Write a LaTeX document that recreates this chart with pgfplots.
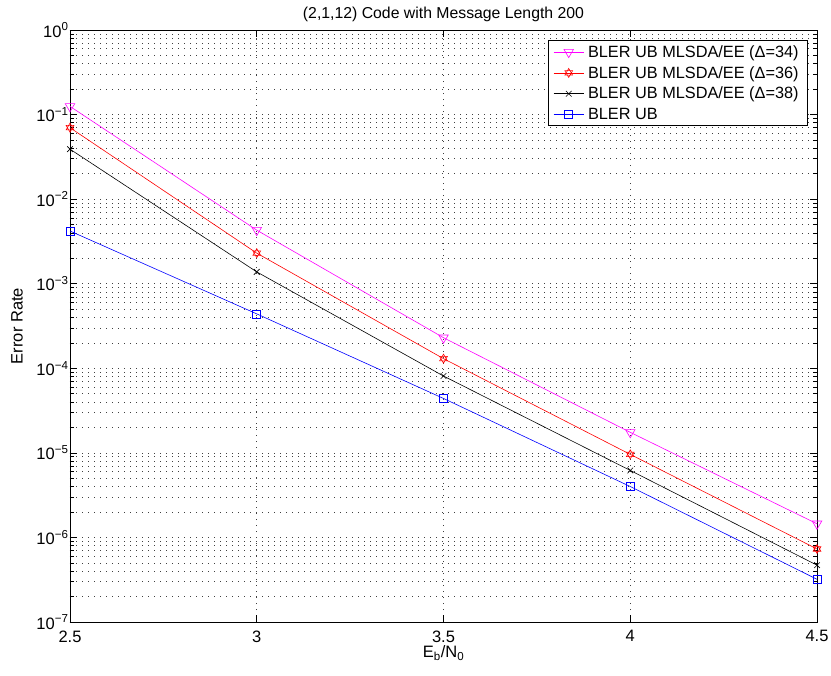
\documentclass[border=0pt]{standalone}
\usepackage{pgfplots}
\pgfplotsset{compat=1.18}
\usepackage{fontspec}
\setmainfont{Liberation Sans}
\definecolor{mlmagenta}{rgb}{1,0,1}
\definecolor{mlred}{rgb}{1,0,0}
\definecolor{mlblue}{rgb}{0,0,1}
\pgfdeclareplotmark{hexagram}{%
  \pgfpathmoveto{\pgfqpointpolar{90}{\pgfplotmarksize}}%
  \pgfpathlineto{\pgfqpointpolar{210}{\pgfplotmarksize}}%
  \pgfpathlineto{\pgfqpointpolar{330}{\pgfplotmarksize}}%
  \pgfpathclose
  \pgfpathmoveto{\pgfqpointpolar{270}{\pgfplotmarksize}}%
  \pgfpathlineto{\pgfqpointpolar{30}{\pgfplotmarksize}}%
  \pgfpathlineto{\pgfqpointpolar{150}{\pgfplotmarksize}}%
  \pgfpathclose
  \pgfusepathqstroke}
\begin{document}
\begin{tikzpicture}
\begin{axis}[
  scale only axis,
  width=747pt, height=592pt,
  ymode=log,
  xmin=2.5, xmax=4.5,
  ymin=1e-7, ymax=1,
  xtick={2.5,3,3.5,4,4.5},
  xticklabels={2.5,3,3.5,4,4.5},
  ytick={1e-7,1e-6,1e-5,1e-4,1e-3,1e-2,1e-1,1},
  yticklabel={10\textsuperscript{\pgfmathtruncatemacro{\e}{round(\tick/ln(10))}\ifnum\e<0 −\pgfmathtruncatemacro{\f}{-\e}\f\else\e\fi}},
  yticklabel style={xshift=2pt},
  xticklabel style={yshift=-5pt},
  tick align=inside,
  major tick length=7pt,
  minor tick length=4pt,
  tick style={black, line width=0.6pt},
  axis line style={line width=0.9pt},
  grid=both,
  major grid style={black!75, dash pattern=on 0.8pt off 5.2pt, line width=0.6pt},
  minor grid style={black!75, dash pattern=on 0.8pt off 5.2pt, line width=0.6pt},
  minor x tick num=0,
  ticklabel style={font=\fontsize{16.5}{19}\selectfont},
  xlabel={E\textsubscript{b}/N\textsubscript{0}},
  ylabel={Error Rate},
  every axis x label/.style={at={(axis description cs:0.5,-0.052)}, anchor=center, font=\fontsize{16.5}{19}\selectfont},
  every axis y label/.style={at={(axis description cs:-0.071,0.5)}, anchor=center, rotate=90, font=\fontsize{16.5}{19}\selectfont},
  title={(2,1,12) Code with Message Length 200},
  every axis title/.style={at={(axis description cs:0.5,1.026)}, anchor=center, font=\fontsize{15.8}{19}\selectfont},
  legend style={at={(0.988,0.983)}, anchor=north east, draw=black, line width=0.8pt,
    font=\fontsize{16.3}{19}\selectfont, row sep=3.5pt, inner ysep=3pt, inner xsep=5pt,
    nodes={inner xsep=4pt}},
  legend image code/.code={
    \draw[mark repeat=2,mark phase=2] plot coordinates {(0pt,0pt) (15pt,0pt) (30pt,0pt)};},
  legend cell align=left,
]
\addplot[mlmagenta, line width=0.6pt, mark=triangle, mark options={rotate=180, solid, line width=0.6pt}, mark size=5.5pt]
  coordinates {(2.5,0.125) (3,4.3e-3) (3.5,2.3e-4) (4,1.75e-5) (4.5,1.45e-6)};
\addlegendentry{BLER UB MLSDA/EE (Δ=34)}
\addplot[mlred, line width=0.6pt, mark=hexagram, mark options={solid, line width=0.6pt}, mark size=4.5pt]
  coordinates {(2.5,0.070) (3,2.3e-3) (3.5,1.3e-4) (4,9.6e-6) (4.5,7.3e-7)};
\addlegendentry{BLER UB MLSDA/EE (Δ=36)}
\addplot[black, line width=0.6pt, mark=x, mark options={solid, line width=0.6pt}, mark size=4pt]
  coordinates {(2.5,0.039) (3,1.38e-3) (3.5,8.1e-5) (4,6.2e-6) (4.5,4.7e-7)};
\addlegendentry{BLER UB MLSDA/EE (Δ=38)}
\addplot[mlblue, line width=0.6pt, mark=square, mark options={solid, line width=0.6pt}, mark size=4pt]
  coordinates {(2.5,4.2e-3) (3,4.4e-4) (3.5,4.4e-5) (4,4.0e-6) (4.5,3.2e-7)};
\addlegendentry{BLER UB}
\end{axis}
\pgfresetboundingbox
\path ([shift={(-70pt,-53pt)}]current axis.south west) rectangle ([shift={(14pt,30pt)}]current axis.north east);
\end{tikzpicture}
\end{document}
